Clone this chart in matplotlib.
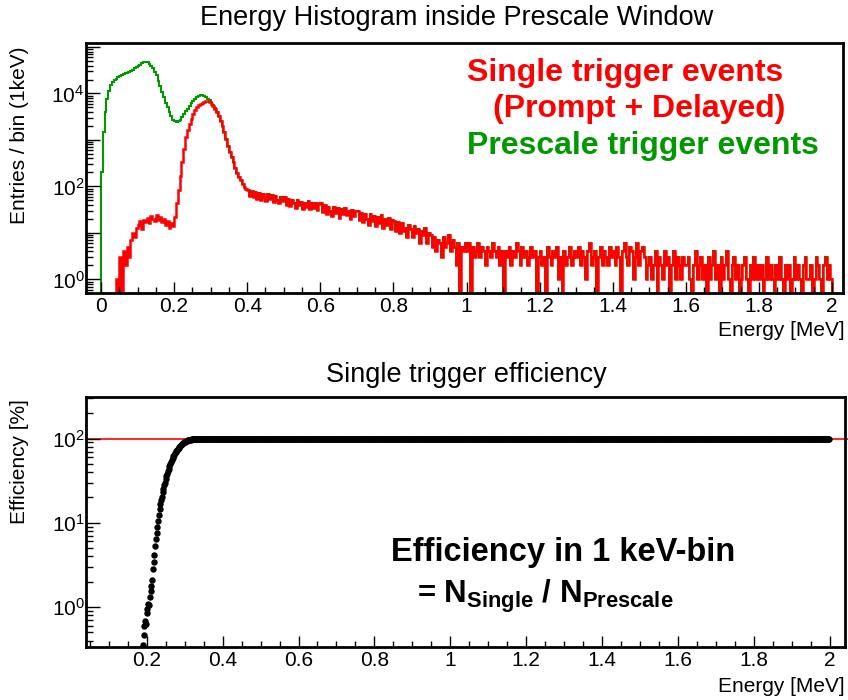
import numpy as np
import matplotlib.pyplot as plt
from matplotlib.ticker import FuncFormatter, LogLocator, NullFormatter, MultipleLocator

plt.rcParams['font.family'] = ['Liberation Sans', 'DejaVu Sans']
plt.rcParams['mathtext.fontset'] = 'custom'
plt.rcParams['mathtext.rm'] = 'Liberation Sans'
plt.rcParams['mathtext.bf'] = 'Liberation Sans:bold'
plt.rcParams['mathtext.it'] = 'Liberation Sans:italic'

# ---- data (entries per 1 keV, read in 5 keV steps) ----
bin_edges = np.linspace(0.0, 2.0, 401)

single_0_04 = [0, 0, 0, 0, 0, 0, 0, 0, 1, 0, 3, 0, 4, 2, 5, 3, 7, 10, 8, 13,
               15, 18, 12, 19, 17, 21, 16, 23, 20, 18, 24, 19, 22, 17, 20, 15, 18, 13, 16, 14,
               22, 45, 85, 170, 330, 640, 1150, 1650, 2250, 2850,
               3600, 4400, 5000, 5600, 6000, 6300, 6600, 6800, 6800, 6500,
               6000, 5400, 4700, 3900, 3200, 2500, 1950, 1450, 1050, 750,
               560, 430, 330, 250, 195, 160, 135, 115, 98, 86]

single_04_1 = [84, 62, 80, 58, 76, 55, 72, 52, 70, 58, 48, 68, 54, 64, 46, 62, 52, 44, 60, 48,
               58, 40, 54, 38, 50, 43, 34, 52, 39, 47, 33, 45, 37, 48, 32, 43, 35, 45, 31, 41,
               43, 28, 39, 25, 37, 30, 23, 36, 27, 34, 21, 32, 26, 35, 24, 30, 20, 31, 23, 29,
               30, 19, 27, 17, 26, 20, 15, 25, 18, 23, 14, 22, 16, 24, 13, 20, 15, 21, 12, 19,
               18, 11, 17, 10, 16, 11, 13, 8, 15, 12, 8, 14, 10, 12, 6, 11, 9, 13, 6, 10,
               9, 5, 8, 4, 7, 6, 3, 8, 5, 6, 9, 4, 7, 5, 2, 6, 0, 5, 4, 6]

single_1_2 = [4, 6, 0, 5, 3, 4, 6, 3, 5, 4, 2, 5, 4, 3, 6, 4, 3, 5, 2, 4,
              0, 4, 3, 5, 2, 4, 3, 6, 4, 2, 5, 3, 4, 2, 3, 5, 3, 4, 0, 3,
              4, 2, 3, 0, 5, 3, 2, 4, 3, 5, 1, 3, 0, 4, 2, 3, 5, 2, 3, 4,
              3, 5, 2, 4, 3, 1, 4, 6, 2, 3, 4, 0, 3, 5, 2, 4, 3, 2, 5, 3,
              4, 2, 5, 3, 0, 4, 6, 3, 2, 5, 4, 1, 3, 6, 2, 4, 5, 3, 1, 2,
              3, 1, 2, 4, 0, 3, 2, 1, 4, 2, 3, 0, 2, 4, 1, 3, 2, 1, 3, 2,
              2, 3, 1, 0, 2, 4, 1, 2, 3, 1, 2, 0, 3, 1, 2, 4, 1, 2, 0, 3,
              1, 2, 4, 1, 0, 2, 3, 1, 2, 0, 1, 2, 3, 1, 0, 2, 1, 3, 1, 2,
              1, 2, 0, 1, 3, 1, 2, 1, 0, 2, 1, 3, 1, 0, 2, 1, 2, 0, 1, 3,
              1, 2, 1, 0, 2, 3, 1, 1, 2, 0, 1, 3, 2, 1, 0, 2, 3, 1, 2, 1]

# prescale differs from single only below ~0.32 MeV
prescale_0_032 = [200, 1500, 4000, 7500, 11500, 15000, 17500, 19500, 21000, 22500,
                  23500, 24500, 25800, 27000, 28200, 29500, 31000, 32800, 34800, 37000,
                  39500, 42000, 44500, 46500, 48000, 47000, 44000, 40000, 35000, 29500,
                  24500, 19000, 14500, 11000, 8200, 6400, 5000, 4000, 3200, 2700,
                  2500, 2450, 2500, 2700, 3100, 3600, 4100, 4700, 5400, 6100,
                  6800, 7500, 8200, 8800, 9200, 9200, 8900, 8400, 7800, 7100,
                  6400, 5600, 4800, 3950]

# efficiency [%] in 1 keV bins
eff_rise_e = np.arange(0.190, 0.3405, 0.002)
eff_rise = [0.35, 0.46, 0.60, 0.68, 0.62, 0.85, 0.95, 1.10, 1.05, 1.30,
            1.55, 1.80, 2.1, 2.8, 3.4, 4.2, 5.3, 6.5, 7.6, 9.0,
            10.5, 12.5, 14.5, 16.5, 18.5, 20.5, 23, 25.5, 28, 30,
            33, 35.5, 38.5, 41.5, 44, 47, 50, 53, 56, 59,
            61.5, 64, 67, 69.5, 72, 74, 76, 78, 80, 82,
            84, 85.5, 87, 88.5, 90, 91, 92, 93, 94, 95,
            95.7, 96.3, 96.9, 97.4, 97.8, 98.2, 98.5, 98.8, 99.0, 99.2,
            99.4, 99.5, 99.6, 99.7, 99.8, 99.9]
eff_flat_e = np.arange(0.342, 2.0, 0.002)
eff_flat_level = 100.0

single = np.array(single_0_04 + single_04_1 + single_1_2, dtype=float)
prescale = single.copy()
prescale[:len(prescale_0_032)] = prescale_0_032

RED = '#ff0000'
GREEN = '#009900'

fig = plt.figure(figsize=(8.48, 7.0), dpi=100)
W, H = 848.0, 700.0


def px(x, y):
    return x / W, 1 - y / H


def style_axes(ax):
    for s in ax.spines.values():
        s.set_linewidth(2)
    ax.tick_params(which='both', direction='in', top=False, right=False,
                   labelsize=15, width=1, pad=3)
    ax.tick_params(axis='x', which='major', length=8)
    ax.tick_params(axis='x', which='minor', length=4)
    ax.tick_params(axis='y', which='major', length=10, pad=1)
    ax.tick_params(axis='y', which='minor', length=5)
    ax.xaxis.set_major_formatter(FuncFormatter(lambda v, p: '%g' % round(v, 3)))
    ax.xaxis.set_minor_locator(MultipleLocator(0.05))


# ---- top panel ----
ax1 = fig.add_axes([86 / W, 1 - 293 / H, (843 - 86) / W, (293 - 43) / H])
ax1.set_yscale('log')
ax1.stairs(np.where(prescale > 0, prescale, 1e-3), bin_edges, color=GREEN, lw=1.5, baseline=1e-3)
ax1.stairs(np.where(single > 0, single, 1e-3), bin_edges, color=RED, lw=1.8, baseline=1e-3)
ax1.set_xlim(-0.041, 2.03)
ax1.set_ylim(0.51, 1.22e5)
ax1.xaxis.set_major_locator(MultipleLocator(0.2))
ax1.yaxis.set_major_locator(LogLocator(base=10, numticks=20))
ax1.yaxis.set_minor_locator(LogLocator(base=10, subs=np.arange(2, 10), numticks=20))
ax1.yaxis.set_minor_formatter(NullFormatter())
ax1.yaxis.set_major_formatter(FuncFormatter(
    lambda v, p: r'$10^{%d}$' % round(np.log10(v)) if round(np.log10(v)) % 2 == 0 else ''))
style_axes(ax1)

fig.text(*px(457, 18), 'Energy Histogram inside Prescale Window', ha='center', va='center', fontsize=19.5)
fig.text(*px(20, 46), 'Entries / bin (1keV)', rotation=90, ha='center', va='top', fontsize=15)
fig.text(*px(845, 331), 'Energy [MeV]', ha='right', va='center', fontsize=15)

fig.text(*px(467, 81), 'Single trigger events', color=RED, fontsize=23,
         fontweight='bold', ha='left', va='baseline')
fig.text(*px(493, 117), '(Prompt + Delayed)', color=RED, fontsize=23,
         fontweight='bold', ha='left', va='baseline')
fig.text(*px(467, 154), 'Prescale trigger events', color=GREEN, fontsize=23,
         fontweight='bold', ha='left', va='baseline')

# ---- bottom panel ----
ax2 = fig.add_axes([86 / W, 1 - 647 / H, (845 - 86) / W, (647 - 397) / H])
ax2.set_yscale('log')
ax2.plot([0.04, 2.05], [100, 100], color=RED, lw=1.2, zorder=1, clip_on=False)
ax2.plot(eff_rise_e, eff_rise, 'o', color='black', ms=3.6, zorder=3)
ax2.plot(eff_flat_e, np.full(len(eff_flat_e), eff_flat_level), 'o', color='black', ms=3.6, zorder=3)
ax2.set_xlim(0.04, 2.04)
ax2.set_ylim(0.335, 312)
ax2.xaxis.set_major_locator(MultipleLocator(0.2))
ax2.yaxis.set_major_locator(LogLocator(base=10, numticks=20))
ax2.yaxis.set_minor_locator(LogLocator(base=10, subs=np.arange(2, 10), numticks=20))
ax2.yaxis.set_minor_formatter(NullFormatter())
ax2.yaxis.set_major_formatter(FuncFormatter(lambda v, p: r'$10^{%d}$' % round(np.log10(v))))
style_axes(ax2)

fig.text(*px(466, 375), 'Single trigger efficiency', ha='center', va='center', fontsize=19.5)
fig.text(*px(20, 399), 'Efficiency [%]', rotation=90, ha='center', va='top', fontsize=15)
fig.text(*px(845, 686), 'Energy [MeV]', ha='right', va='center', fontsize=15)

fig.text(*px(391, 561), 'Efficiency in 1 keV-bin', fontsize=23.5, fontweight='bold',
         ha='left', va='baseline')
fig.text(*px(417, 603), r'= $\mathbf{N_{Single}}$ / $\mathbf{N_{Prescale}}$', fontsize=22.5,
         fontweight='bold', ha='left', va='baseline')

fig.savefig('out.png', dpi=100)
